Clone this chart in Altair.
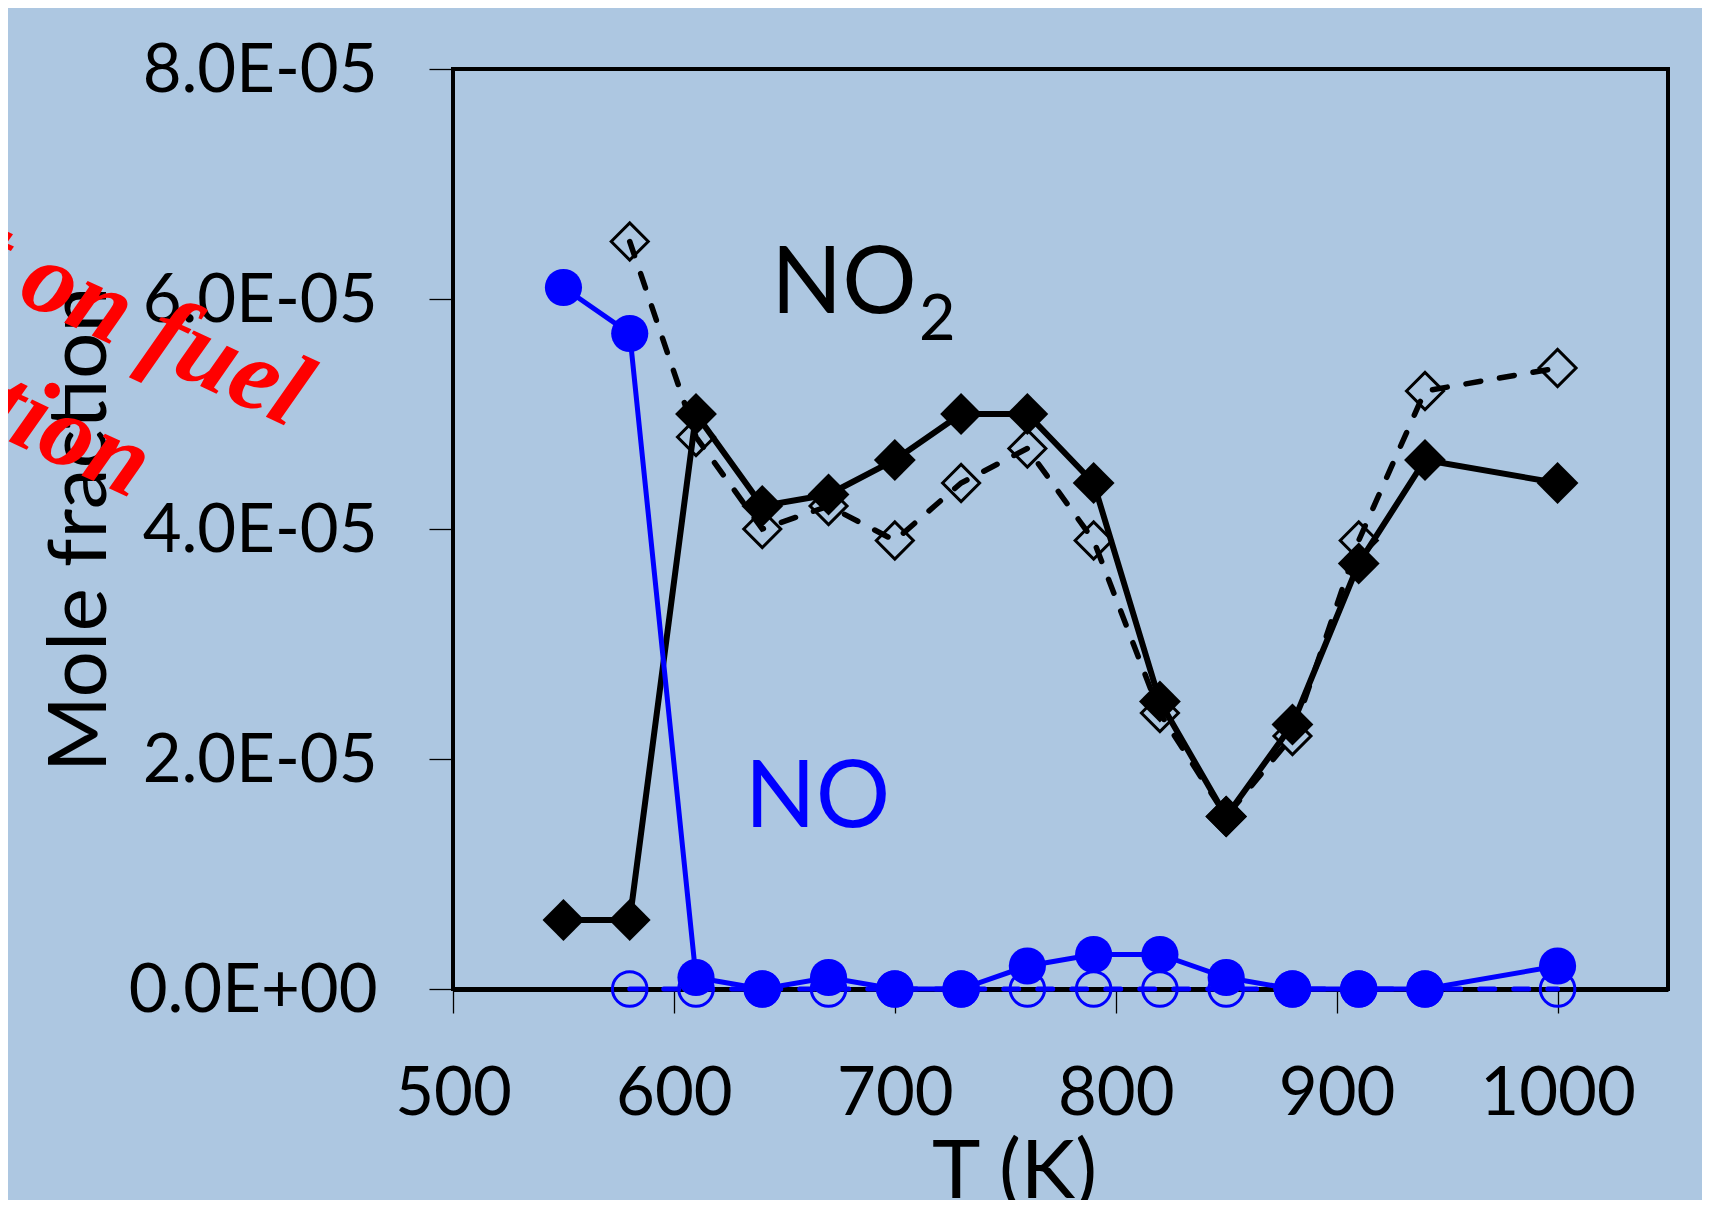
import altair as alt
import pandas as pd

# ---------------- data ----------------
T_exp = [550, 580, 610, 640, 670, 700, 730, 760, 790, 820, 850, 880, 910, 940, 1000]
T_model = [580, 610, 640, 670, 700, 730, 760, 790, 820, 850, 880, 910, 940, 1000]

no2_exp = [0.6e-5, 0.6e-5, 5.0e-5, 4.2e-5, 4.3e-5, 4.6e-5, 5.0e-5, 5.0e-5,
           4.4e-5, 2.5e-5, 1.5e-5, 2.3e-5, 3.7e-5, 4.6e-5, 4.4e-5]
no2_model = [6.5e-5, 4.8e-5, 4.0e-5, 4.2e-5, 3.9e-5, 4.4e-5, 4.7e-5, 3.9e-5,
             2.4e-5, 1.5e-5, 2.2e-5, 3.9e-5, 5.2e-5, 5.4e-5]
no_exp = [6.1e-5, 5.7e-5, 0.1e-5, 0.0, 0.1e-5, 0.0, 0.0, 0.2e-5,
          0.3e-5, 0.3e-5, 0.1e-5, 0.0, 0.0, 0.0, 0.2e-5]
no_model = [0.0, 0.0, 0.0, 0.0, 0.0, 0.0, 0.0, 0.0, 0.0, 0.0, 0.0, 0.0, 0.0, 0.0]

x_ticks = [500, 600, 700, 800, 900, 1000]
y_ticks = [0, 2e-5, 4e-5, 6e-5, 8e-5]

label_text = ["NO", "2", "NO"]
label_T = [677, 711, 665]
label_v = [5.878e-5, 5.643e-5, 1.41e-5]

watermark_lines = ["Effect on fuel", "oxidation"]

BG = "#ADC7E1"
FONT = "Lato"

# ---------------- encodings ----------------
X = alt.X("T:Q",
          scale=alt.Scale(domain=[500, 1050], nice=False, zero=False),
          axis=alt.Axis(values=x_ticks, format="d", title="T (K)", grid=False,
                        labelFontSize=67, labelFont=FONT, labelColor="black",
                        labelPadding=48, labelFlush=False, labelOverlap=False, labelLimit=0,
                        tickSize=24, tickColor="black", tickWidth=1.3,
                        domain=True, domainColor="black", domainWidth=5,
                        titleFontSize=82, titleFont=FONT, titleFontWeight="normal",
                        titleColor="black", titleX=561, titleY=208,
                        titleBaseline="alphabetic", titleAlign="center", titleLimit=0))
Y = alt.Y("v:Q",
          scale=alt.Scale(domain=[0, 8e-5], nice=False),
          axis=alt.Axis(values=y_ticks, title="Mole fraction", grid=False,
                        labelExpr="datum.value == 0 ? '0.0E+00' : format(datum.value * 100000, '.1f') + 'E-05'",
                        labelFontSize=67, labelFont=FONT, labelColor="black",
                        labelPadding=52, labelFlush=False, labelOverlap=False, labelLimit=0,
                        labelOffset=2,
                        tickSize=24, tickColor="black", tickWidth=1.3,
                        domain=False,
                        titleFontSize=82, titleFont=FONT, titleFontWeight="normal",
                        titleColor="black", titleAngle=270, titleX=-348, titleY=460,
                        titleBaseline="alphabetic", titleAlign="center", titleLimit=0))

df_no2_exp = pd.DataFrame({"T": T_exp, "v": no2_exp})
df_no2_model = pd.DataFrame({"T": T_model, "v": no2_model})
df_no_exp = pd.DataFrame({"T": T_exp, "v": no_exp})
df_no_model = pd.DataFrame({"T": T_model, "v": no_model})

layers = []
# NO2 model (dashed, open diamonds)
layers.append(alt.Chart(df_no2_model).mark_line(color="black", strokeWidth=5.5, strokeDash=[15, 19],
                                                strokeCap="round")
              .encode(x=X, y=Y))
layers.append(alt.Chart(df_no2_model).mark_point(shape="diamond", filled=False, size=1370,
                                                 color="black", strokeWidth=3, opacity=1)
              .encode(x=X, y=Y))
# NO2 experiment (solid, filled diamonds)
layers.append(alt.Chart(df_no2_exp).mark_line(color="black", strokeWidth=6)
              .encode(x=X, y=Y))
layers.append(alt.Chart(df_no2_exp).mark_point(shape="diamond", filled=True, size=1750,
                                               color="black", opacity=1)
              .encode(x=X, y=Y))
# NO model (dashed, open circles)
layers.append(alt.Chart(df_no_model).mark_line(color="#0000FF", strokeWidth=5, strokeDash=[15, 19],
                                               strokeCap="round")
              .encode(x=X, y=Y))
layers.append(alt.Chart(df_no_model).mark_point(shape="circle", filled=False, size=1195,
                                                color="#0000FF", strokeWidth=3, opacity=1)
              .encode(x=X, y=Y))
# NO experiment (solid, filled circles)
layers.append(alt.Chart(df_no_exp).mark_line(color="#0000FF", strokeWidth=5)
              .encode(x=X, y=Y))
layers.append(alt.Chart(df_no_exp).mark_point(shape="circle", filled=True, size=1380,
                                              color="#0000FF", opacity=1)
              .encode(x=X, y=Y))

# Series labels
lab_no2 = pd.DataFrame({"T": [label_T[0]], "v": [label_v[0]], "t": [label_text[0]]})
lab_sub = pd.DataFrame({"T": [label_T[1]], "v": [label_v[1]], "t": [label_text[1]]})
lab_no = pd.DataFrame({"T": [label_T[2]], "v": [label_v[2]], "t": [label_text[2]]})
layers.append(alt.Chart(lab_no2).mark_text(font=FONT, fontSize=93, color="black",
                                           align="center", baseline="alphabetic")
              .encode(x=X, y=Y, text="t:N"))
layers.append(alt.Chart(lab_sub).mark_text(font=FONT, fontSize=63, color="black",
                                           align="left", baseline="alphabetic")
              .encode(x=X, y=Y, text="t:N"))
layers.append(alt.Chart(lab_no).mark_text(font=FONT, fontSize=93, color="#0000FF",
                                          align="center", baseline="alphabetic")
              .encode(x=X, y=Y, text="t:N"))

# Red watermark (partly outside the page on the left)
wm1 = pd.DataFrame({"t": [watermark_lines[0]]})
wm2 = pd.DataFrame({"t": [watermark_lines[1]]})
layers.append(alt.Chart(wm1).mark_text(font="Liberation Serif", fontSize=104, fontStyle="italic",
                                       fontWeight="bold", color="#FF0000", angle=25,
                                       align="right", baseline="alphabetic")
              .encode(text="t:N", x=alt.value(-163), y=alt.value(359)))
layers.append(alt.Chart(wm2).mark_text(font="Liberation Serif", fontSize=104, fontStyle="italic",
                                       fontWeight="bold", color="#FF0000", angle=25,
                                       align="right", baseline="alphabetic")
              .encode(text="t:N", x=alt.value(-321), y=alt.value(430)))

# whole SVG = 1694 x 1192 so that, with the page's 8px margins, nothing scrolls
chart = alt.layer(*layers).properties(
    width=1215, height=920,
    autosize=alt.AutoSizeParams(type="none"),
    padding={"left": 445, "top": 61, "right": 34, "bottom": 211},
    background=BG,
).configure(
    font=FONT,
    view=alt.ViewConfig(stroke="black", strokeWidth=4, fill=BG),
)

chart.save("out.html", embed_options={"renderer": "svg", "actions": False})
